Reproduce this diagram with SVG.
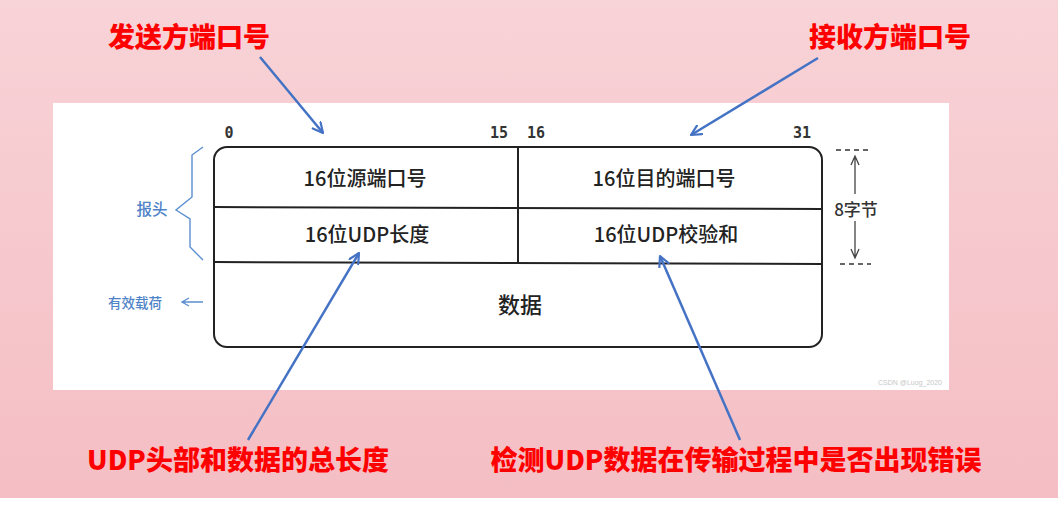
<svg xmlns="http://www.w3.org/2000/svg" width="1059" height="507" viewBox="0 0 1059 507">
<defs>
<linearGradient id="bg" x1="0" y1="0" x2="0" y2="1">
<stop offset="0" stop-color="#f8d3d7"/>
<stop offset="1" stop-color="#f4bec4"/>
</linearGradient>
<marker id="ah" viewBox="0 0 12 12" refX="11" refY="6" markerWidth="12" markerHeight="12" markerUnits="userSpaceOnUse" orient="auto">
<path d="M1,1 L11,6 L1,11" fill="none" stroke="#4472c4" stroke-width="2.2" stroke-linecap="round" stroke-linejoin="round"/>
</marker>
</defs>
<style>
.red{font-family:"Noto Sans CJK SC","Noto Sans",sans-serif;font-weight:900;font-size:27px;fill:#ff0000;text-anchor:middle}
.cell{font-family:"Noto Sans CJK SC","Noto Sans",sans-serif;font-weight:500;font-size:20px;fill:#222;text-anchor:middle}
.num{font-family:"DejaVu Sans Mono",monospace;font-weight:bold;font-size:15px;fill:#333;text-anchor:middle}
.side{font-family:"Noto Sans CJK SC","Noto Sans",sans-serif;font-weight:500;font-size:17px;fill:#333;text-anchor:middle}
.blue{font-family:"Noto Sans CJK SC","Noto Sans",sans-serif;font-weight:500;fill:#4f83c7;text-anchor:middle}
.ln{stroke:#222;stroke-width:2;fill:none}
.conn{stroke:#4472c4;stroke-width:2.5;fill:none;marker-end:url(#ah)}
.thin{stroke:#444;stroke-width:1.3;fill:none}
.bl{stroke:#5b8fd0;stroke-width:1.4;fill:none}
</style>
<rect x="0" y="0" width="1059" height="507" fill="#ffffff"/>
<rect x="0" y="0" width="1058" height="498" fill="url(#bg)"/>
<rect x="53" y="103" width="896" height="287" fill="#ffffff"/>

<g id="table">
<rect x="214" y="147" width="608" height="200" rx="13" ry="13" class="ln"/>
<line x1="214" y1="207" x2="822" y2="209" class="ln"/>
<line x1="214" y1="262" x2="822" y2="264" class="ln"/>
<line x1="518" y1="147" x2="518" y2="263" class="ln"/>
</g>
<g id="bits">
<text class="num" x="229" y="138">0</text>
<text class="num" x="499" y="138">15</text>
<text class="num" x="536" y="138">16</text>
<text class="num" x="802" y="138">31</text>
</g>
<g id="src-port"><text class="cell" x="365" y="186">16位源端口号</text></g>
<g id="dst-port"><text class="cell" x="664" y="186">16位目的端口号</text></g>
<g id="udp-len"><text class="cell" x="367" y="242">16位UDP长度</text></g>
<g id="udp-sum"><text class="cell" x="666" y="242">16位UDP校验和</text></g>
<g id="data"><text class="cell" x="520" y="313" style="font-size:22px">数据</text></g>

<g id="size">
<line x1="836" y1="150" x2="870" y2="150" stroke="#333" stroke-width="1.5" stroke-dasharray="5,4"/>
<line x1="840" y1="264" x2="871" y2="264" stroke="#333" stroke-width="1.5" stroke-dasharray="5,4"/>
<path class="thin" d="M855,194 L855,156 M851,165 L855,156 L859,165"/>
<path class="thin" d="M855,221 L855,258 M851,249 L855,258 L859,249"/>
<text class="side" x="856" y="216">8字节</text>
</g>

<g id="header-brace">
<path class="bl" d="M203,147 L192,155 L192,197 L176,210 L190,219 L190,247 L203,260"/>
<text class="blue" x="152" y="215" font-size="15.5">报头</text>
</g>
<g id="payload">
<text class="blue" x="135" y="308" font-size="13.5">有效载荷</text>
<path class="bl" d="M203,302 L182,302 M189,298 L182,302 L189,306"/>
</g>

<g id="label-src"><text class="red" x="189" y="47">发送方端口号</text></g>
<g id="label-dst"><text class="red" x="890" y="47">接收方端口号</text></g>
<g id="label-len"><text class="red" x="238" y="470">UDP头部和数据的总长度</text></g>
<g id="label-sum"><text class="red" x="736" y="470">检测UDP数据在传输过程中是否出现错误</text></g>

<g id="connectors">
<line class="conn" x1="260" y1="57" x2="323" y2="133"/>
<line class="conn" x1="818" y1="58" x2="691" y2="135"/>
<line class="conn" x1="248" y1="440" x2="359" y2="253"/>
<line class="conn" x1="740" y1="440" x2="660" y2="256"/>
</g>

<text x="910" y="385" font-family="Liberation Sans, sans-serif" font-size="7" fill="#c8c8c8" text-anchor="middle">CSDN @Luog_2020</text>
</svg>
